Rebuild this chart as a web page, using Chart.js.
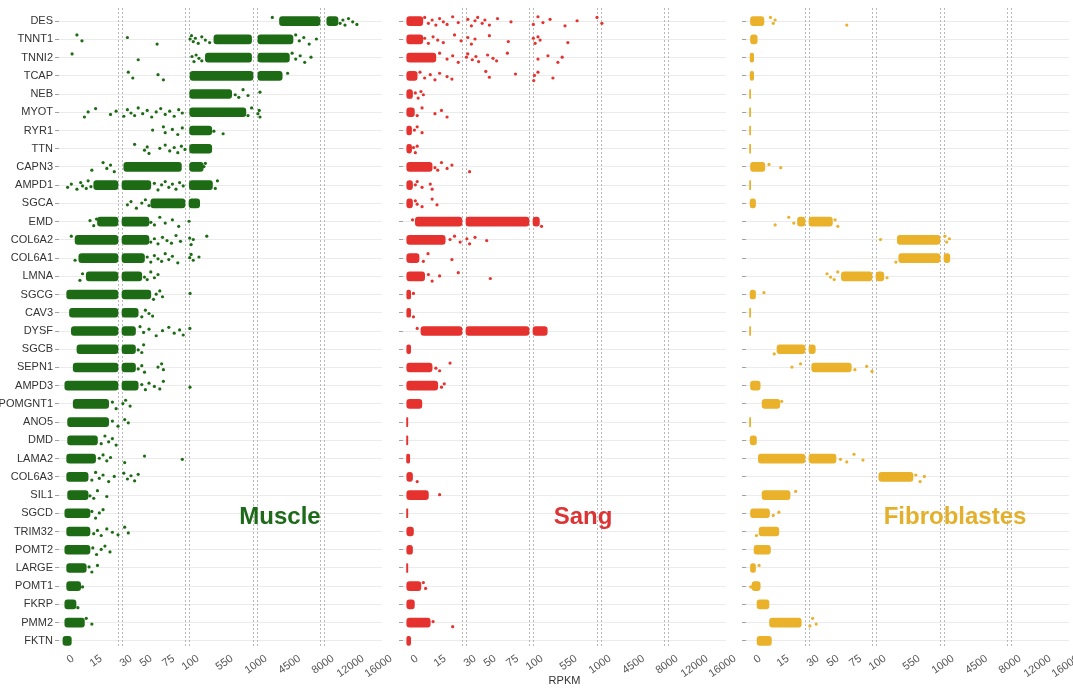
<!DOCTYPE html>
<html>
<head>
<meta charset="utf-8">
<script src="https://cdn.jsdelivr.net/npm/chart.js@4.4.1/dist/chart.umd.min.js"></script>
<style>
html, body { margin:0; padding:0; background:#fff; overflow:hidden; width:1073px; height:688px; }
canvas { position:absolute; top:0; }
.tissue { position:absolute; font:bold 24px 'Liberation Sans', Arial, sans-serif; transform:translate(-50%,-50%); white-space:nowrap; }
</style>
</head>
<body>
<canvas id="muscle" width="392" height="688" style="left:0px"></canvas>
<canvas id="sang" width="392" height="688" style="left:344px"></canvas>
<canvas id="fibro" width="392" height="688" style="left:687px"></canvas>
<div class="tissue" style="left:280px;top:516px;color:#1e6a1a">Muscle</div>
<div class="tissue" style="left:583px;top:516px;color:#dc3434">Sang</div>
<div class="tissue" style="left:955px;top:516px;color:#e4b02c">Fibroblastes</div>
<script>
const genes = ['DES','TNNT1','TNNI2','TCAP','NEB','MYOT','RYR1','TTN','CAPN3','AMPD1','SGCA','EMD','COL6A2','COL6A1','LMNA','SGCG','CAV3','DYSF','SGCB','SEPN1','AMPD3','POMGNT1','ANO5','DMD','LAMA2','COL6A3','SIL1','SGCD','TRIM32','POMT2','LARGE','POMT1','FKRP','PMM2','FKTN']
const tickLabels = [0,15,30,50,75,100,550,1000,4500,8000,12000,16000]
const breaks = [0,30,100,1000,8000,16000]

// dense part of each cloud, RPKM ranges per gene
const muscleCores = [
  [[3500,8000],[8400,10000]], [[450,980],[1100,5000]], [[330,980],[1100,4600]], [[115,1000],[1100,3800]], [[110,700]],
  [[110,900]], [[108,420]], [[108,420]], [[32,96],[108,300]], [[17,62],[105,430]],
  [[62,250]], [[19,60]], [[7,60]], [[9,55]], [[13,52]],
  [[2.5,62]], [[4,48]], [[5,45]], [[8,45]], [[6,45]],
  [[1.5,48]], [[6,25]], [[3,25]], [[3,19]], [[2.5,18]],
  [[2.5,14]], [[3,14]], [[1.5,15]], [[2.5,15]], [[1.5,15]],
  [[2.5,13]], [[2.5,10]], [[1.5,7.5]], [[1.5,12]], [[0.5,5]]
]
const muscleOutliers = [
  [2700,10300,10700,11000,11500,12100,12700],
  [8,10.7,36,69,115,135,160,190,230,280,330,390,5300,5700,6200,6800,7600],
  [5.4,48,142,170,200,240,280,4900,5300,5800,6300,7000],
  [37,42,70,76,4400],
  [750,800,860,930,1330],
  [12,14,18,26,29,32,36,40,44,48,53,58,63,68,73,78,83,88,93,97,930,980,1100,1250,1330],
  [64,76,78,86,92,97,450,580],
  [44,55,58,60,72,78,83,88,92,96,100],
  [16,22,24,26,28,310,330],
  [3,5,8,10,11,13,14,15.5,66,70,74,78,82,86,90,94,98,470,500],
  [36,40,46,52,56,60],
  [15,17,18.5,62,66,72,78,86,93,101],
  [5,62,66,70,75,80,85,90,95,110,130,160,350],
  [7,58,62,66,70,74,78,82,86,92,110,130,160,240],
  [9.6,11,55,58,62,66,70],
  [65,68,72,75,115],
  [52,56,60,64],
  [50,54,60,68,75,82,88,94,98,112],
  [48,52,54],
  [48,52,55,70,74,76],
  [52,56,60,66,72,76,114],
  [27,29,31,34,39],
  [27,30,33,37],
  [21,23,25,27,29],
  [20,22,24,26,33,55,97],
  [16,18,20,22,25,28,32,36,40,44,48],
  [15,17,19,24],
  [16,18,20,22],
  [17,19,21,24,27,30,33,37],
  [16.5,18.5,21,23,25.7],
  [14.5,16,19],
  [11],
  [8.5],
  [13,16],
  []
]

const sangCores = [
  [[0.4,9]], [[0.4,9]], [[0.4,16]], [[0.4,6]], [[0.4,3.5]],
  [[0.4,4.5]], [[0.4,3]], [[0.4,3]], [[0.4,14]], [[0.4,3.5]],
  [[0.4,3.5]], [[5,190]], [[0.4,21]], [[0.4,7]], [[0.4,10]],
  [[0.4,2.5]], [[0.4,2.5]], [[8,300]], [[0.4,2.5]], [[0.4,14]],
  [[0.4,17]], [[0.4,8.5]], [[0.3,1]], [[0.3,1]], [[0.3,2]],
  [[0.4,3.5]], [[0.4,12]], [[0.3,1]], [[0.4,4]], [[0.4,3.5]],
  [[0.3,1]], [[0.4,8]], [[0.4,4.5]], [[0.4,13]], [[0.4,2.5]]
]
const sangOutliers = [
  [10,12,14,16,18,20,22,25,28,32,36,40,43,48,51,56,65,80,105,170,240,340,550,720,1000,1100],
  [10,12,14.5,17,20,26,29.5,32,36,40,56,77,105,130,170,200,590],
  [18,22,25,28,30.5,32,37,41,44,54,60,64,76,170,310,450,510],
  [7.5,10,13,15.5,18,22,24.6,52,56,85,110,120,170,380],
  [5,6.5,8,9.3],
  [6,8.6,15.5,19,22],
  [4.5,6,8.6],
  [4,5,6],
  [15.5,17,19,22,24.6,34],
  [5,6,8.6,13,14],
  [5,6,8.6,14,16.6],
  [3.5,220],
  [23.6,26,29,31,34,40,53],
  [9.3,11.8,24.6],
  [12,14,18,28,57],
  [4], [4], [6], [],
  [16,18,23.6],
  [19,20.5],
  [], [], [], [],
  [6],
  [18],
  [], [], [], [],
  [9.3,10.5],
  [],
  [14.5,25],
  []
]

const fibroCores = [
  [[0.8,8]], [[0.8,4.4]], [[0.6,2.5]], [[0.6,2.5]], [[0.3,0.9]],
  [[0.3,0.9]], [[0.3,0.9]], [[0.3,0.9]], [[0.8,8.5]], [[0.3,0.9]],
  [[0.6,3.5]], [[26,56]], [[400,1000]], [[420,1650]], [[66,210]],
  [[0.6,3.5]], [[0.3,0.9]], [[0.3,0.9]], [[15,37]], [[33,77]],
  [[0.8,6]], [[7,16.5]], [[0.3,0.9]], [[0.6,4]], [[5,60]],
  [[140,620]], [[7,22]], [[0.8,11]], [[5.4,16]], [[2.7,11.5]],
  [[0.8,3.5]], [[1.6,6]], [[4.3,10.7]], [[11,28]], [[4.3,12]]
]
const fibroOutliers = [
  [11.5,13,14,72],
  [], [], [], [], [], [], [],
  [10.7,17],
  [], [],
  [14,21.3,24,59,62],
  [163,1100,1300,1600],
  [380],
  [50,54,58,62,255],
  [8],
  [], [],
  [13.5],
  [23,27.6,81,94,100],
  [],
  [17.5],
  [], [],
  [65,72,80,90],
  [660,720,780],
  [25],
  [13,16],
  [4],
  [],
  [5.4],
  [1],
  [],
  [31,34,38],
  []
]

// axis pieces between the breaks, in pixels (gaps of 4px at each break)
const segT = [[0,56],[60,123],[127,191],[195,258],[262,318]]
// vertical spread of the dots inside a row
const jitter = [-0.2,0.12,-0.06,0.22,-0.14,0.04,0.18,-0.24,0.08,-0.1,0.26,-0.02]

Chart.defaults.font.family = "'Liberation Sans', Arial, Helvetica, sans-serif"

function tIn(v,k){
  const [a,b] = segT[k]
  return a + (v-breaks[k])/(breaks[k+1]-breaks[k])*(b-a)
}
function toT(v){
  let k = 0
  while (k < segT.length-1 && v > breaks[k+1]) k++
  return tIn(v,k)
}
function tickT(v){
  const k = breaks.indexOf(v)
  if (k > 0 && k < breaks.length-1) return (segT[k-1][1]+segT[k][0])/2
  return toT(v)
}
function coreBars(cores){
  let out = []
  cores.forEach((ranges,i) => {
    for (const [lo,hi] of ranges)
      for (let k = 0; k < segT.length; k++){
        const a = Math.max(lo,breaks[k]), b = Math.min(hi,breaks[k+1])
        if (b > a) out.push({x:[tIn(a,k),tIn(b,k)], y:i})
      }
  })
  return out
}
function points(outliers){
  let out = [], n = 0
  outliers.forEach((vals,i) => vals.forEach(v => out.push({x:toT(v), y:i + jitter[n++ % jitter.length]})))
  return out
}

const breakLines = {
  id: 'breakLines',
  beforeDatasetsDraw(chart){
    const {ctx, chartArea, scales} = chart
    ctx.save()
    ctx.strokeStyle = '#b8b8b8'
    ctx.lineWidth = 1
    ctx.setLineDash([2,2])
    for (let k = 0; k < segT.length-1; k++)
      for (const t of [segT[k][1], segT[k+1][0]]){
        const px = Math.round(scales.x.getPixelForValue(t)) + 0.5
        ctx.beginPath()
        ctx.moveTo(px, chartArea.top - 4)
        ctx.lineTo(px, chartArea.bottom - 2)
        ctx.stroke()
      }
    ctx.restore()
  }
}

function panel(id, cores, outliers, color, showGenes, xTitle){
  new Chart(document.getElementById(id), {
    type: 'bar',
    data: {
      datasets: [
        {type:'scatter', data:points(outliers), backgroundColor:color, pointRadius:1.6, borderWidth:0, order:0},
        {data:coreBars(cores), backgroundColor:color, barThickness:9, borderRadius:3, borderSkipped:false, grouped:false, order:1}
      ]
    },
    options: {
      indexAxis: 'y',
      responsive: false,
      animation: false,
      events: [],
      layout: {padding:{top:12, right:10, left:0, bottom:0}},
      plugins: {legend:{display:false}, tooltip:{enabled:false}},
      scales: {
        x: {
          type:'linear', min:-3, max:320, bounds:'data', offset:false,
          grid:{display:false, drawTicks:false, offset:false},
          border:{display:false},
          afterBuildTicks: s => { s.ticks = tickLabels.map(v => ({value:tickT(v)})) },
          afterFit: s => { s.height = 38 },
          ticks:{autoSkip:false, minRotation:35, maxRotation:35, labelOffset:11, padding:2, color:'#555', font:{size:11},
                 callback:(v,i) => tickLabels[i]},
          title:{display:!!xTitle, text:xTitle || '', color:'#333', font:{size:11}, padding:0}
        },
        y: {
          type:'linear', reverse:true, min:-0.5, max:34.5, bounds:'data', offset:false,
          border:{display:false},
          grid:{color:'#ebebeb', tickColor:'#a0a0a0', tickLength:4, offset:false},
          afterBuildTicks: s => { s.ticks = genes.map((g,i) => ({value:i})) },
          afterFit: s => { s.width = 59 },
          ticks:{display:showGenes, color:'#333', font:{size:11}, padding:2, callback:(v,i) => genes[i]}
        }
      }
    },
    plugins: [breakLines]
  })
}

panel('muscle', muscleCores, muscleOutliers, '#1d6b14', true, null)
panel('sang', sangCores, sangOutliers, '#e6322f', false, 'RPKM')
panel('fibro', fibroCores, fibroOutliers, '#eab12a', false, null)
</script>
</body>
</html>
